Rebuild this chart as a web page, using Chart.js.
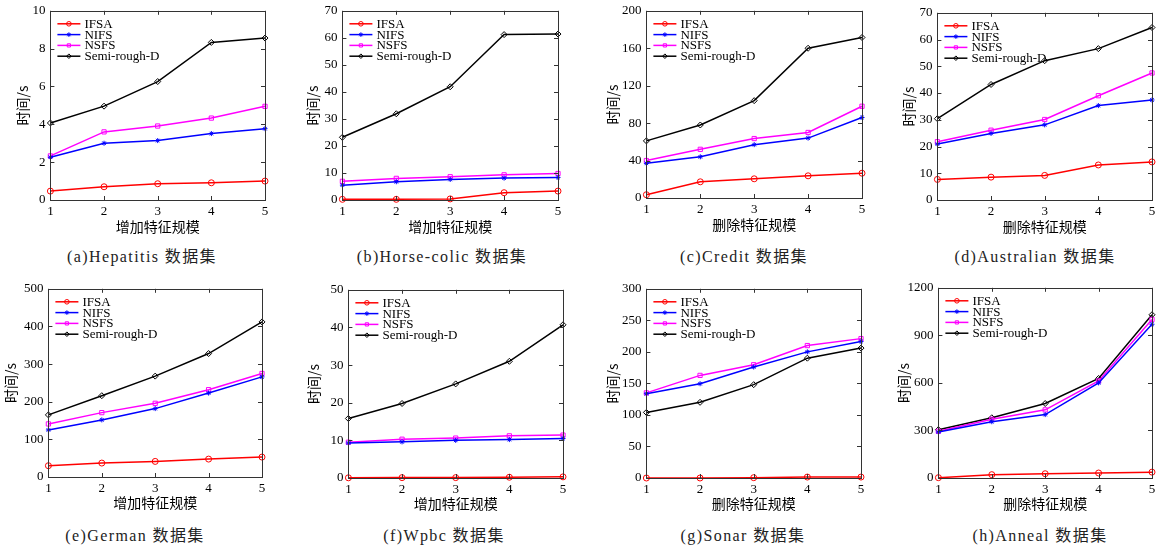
<!DOCTYPE html>
<html><head><meta charset="utf-8">
<script src="https://cdn.jsdelivr.net/npm/chart.js@4/dist/chart.umd.min.js"></script>
<style>
body{margin:0;width:1166px;height:547px;background:#fff;position:relative;overflow:hidden}
canvas{position:absolute}
.cap{position:absolute;font-family:"Liberation Serif","Noto Sans CJK SC",serif;font-size:16px;color:#222;white-space:nowrap;transform:translate(-50%,-50%);line-height:1;letter-spacing:1.4px}
</style></head><body>
<script>
// ---------- data ----------
const featureScale = [1, 2, 3, 4, 5];
const seriesNames = ['IFSA', 'NIFS', 'NSFS', 'Semi-rough-D'];

const hepatitisIFSA = [0.47, 0.70, 0.86, 0.91, 1.0];
const hepatitisNIFS = [2.26, 3.0, 3.14, 3.51, 3.77];
const hepatitisNSFS = [2.33, 3.6, 3.91, 4.33, 4.95];
const hepatitisSemi = [4.07, 4.96, 6.26, 8.33, 8.56];

const horseIFSA = [0.25, 0.25, 0.4, 2.7, 3.3];
const horseNIFS = [5.5, 6.75, 7.6, 8.1, 8.35];
const horseNSFS = [6.9, 8.0, 8.6, 9.3, 9.8];
const horseSemi = [23.2, 31.9, 41.9, 61.2, 61.4];

const creditIFSA = [3.5, 17.3, 20.5, 23.7, 26.5];
const creditNIFS = [37, 44, 57, 64, 86];
const creditNSFS = [40, 52, 63.5, 70, 98];
const creditSemi = [61, 78, 104, 160, 171.5];

const australianIFSA = [7.7, 8.55, 9.2, 13.1, 14.25];
const australianNIFS = [20.9, 24.9, 28.1, 35.3, 37.4];
const australianNSFS = [21.8, 26.1, 30.1, 39.0, 47.5];
const australianSemi = [30.4, 43.2, 52.1, 56.6, 64.5];

const germanIFSA = [30, 37, 41.4, 47.6, 52.9];
const germanNIFS = [125, 151.7, 181.7, 223, 266];
const germanNSFS = [141, 171, 195.8, 232, 275];
const germanSemi = [165, 216, 268, 328, 412];

const wpbcIFSA = [0.05, 0.1, 0.1, 0.2, 0.3];
const wpbcNIFS = [9.3, 9.6, 10.0, 10.2, 10.5];
const wpbcNSFS = [9.5, 10.3, 10.6, 11.2, 11.4];
const wpbcSemi = [15.8, 19.8, 25.0, 31.0, 40.7];

const sonarIFSA = [0, 0, 0.5, 1.5, 1.5];
const sonarNIFS = [133.6, 149.5, 176, 200, 216.6];
const sonarNSFS = [135, 162.7, 179.6, 210, 221];
const sonarSemi = [104, 120, 148, 190, 206];

const annealIFSA = [2, 21, 27, 31.5, 37];
const annealNIFS = [290, 355, 400, 600, 970];
const annealNSFS = [295, 370, 430, 612, 1000];
const annealSemi = [305, 380, 470, 628, 1030];

const yTicksHepatitis = {max: 10, step: 2};
const yTicksHorse = {max: 70, step: 10};
const yTicksCredit = {max: 200, step: 40};
const yTicksAustralian = {max: 70, step: 10};
const yTicksGerman = {max: 500, step: 100};
const yTicksWpbc = {max: 50, step: 10};
const yTicksSonar = {max: 300, step: 50};
const yTicksAnneal = {max: 1200, step: 300};

const xTitleAdd = '增加特征规模';
const xTitleDel = '删除特征规模';
const yTitle = '时间/s';

// ---------- panels (values + layout) ----------
const panels = [
  {cap:'(a)Hepatitis 数据集', series:[hepatitisIFSA,hepatitisNIFS,hepatitisNSFS,hepatitisSemi], y:yTicksHepatitis, xt:xTitleAdd, L:50,R:265,T:10,B:200, tx:22, capX:142, capY:257},
  {cap:'(b)Horse-colic 数据集', series:[horseIFSA,horseNIFS,horseNSFS,horseSemi], y:yTicksHorse, xt:xTitleAdd, L:342,R:558,T:10,B:200, tx:312, capX:442, capY:257},
  {cap:'(c)Credit 数据集', series:[creditIFSA,creditNIFS,creditNSFS,creditSemi], y:yTicksCredit, xt:xTitleDel, L:646,R:862,T:10,B:198, tx:612, capX:744, capY:257},
  {cap:'(d)Australian 数据集', series:[australianIFSA,australianNIFS,australianNSFS,australianSemi], y:yTicksAustralian, xt:xTitleDel, L:937,R:1152,T:12,B:200, tx:908, capX:1035, capY:257},
  {cap:'(e)German 数据集', series:[germanIFSA,germanNIFS,germanNSFS,germanSemi], y:yTicksGerman, xt:xTitleAdd, L:48,R:262,T:288,B:477, tx:10, capX:135, capY:536},
  {cap:'(f)Wpbc 数据集', series:[wpbcIFSA,wpbcNIFS,wpbcNSFS,wpbcSemi], y:yTicksWpbc, xt:xTitleAdd, L:348,R:563,T:289,B:478, tx:313, capX:444, capY:536},
  {cap:'(g)Sonar 数据集', series:[sonarIFSA,sonarNIFS,sonarNSFS,sonarSemi], y:yTicksSonar, xt:xTitleDel, L:646,R:861,T:288,B:478, tx:612, capX:743, capY:536},
  {cap:'(h)Anneal 数据集', series:[annealIFSA,annealNIFS,annealNSFS,annealSemi], y:yTicksAnneal, xt:xTitleDel, L:938,R:1152,T:287,B:478, tx:903, capX:1040, capY:536}
];

const colors = ['#ff0000', '#0000ff', '#ff00ff', '#000000'];
const pointStyles = ['circle', 'star', 'rect', 'rectRot'];
const pointRadii = [3, 2.5, 3, 3];

const serif = '"Liberation Serif", "Noto Sans CJK SC", serif';
const cjk = '"Noto Sans CJK SC", "Liberation Serif", sans-serif';

// frame + inward ticks + legend
const framePlugin = {
  id: 'frame',
  afterDraw(chart) {
    const {ctx, chartArea: a, scales: {x, y}} = chart;
    ctx.save();
    ctx.strokeStyle = '#333';
    ctx.lineWidth = 1;
    ctx.strokeRect(Math.round(a.left) + 0.5, Math.round(a.top) + 0.5, Math.round(a.right - a.left), Math.round(a.bottom - a.top));
    ctx.beginPath();
    const tl = 4;
    x.ticks.forEach((t, i) => {
      const px = Math.round(x.getPixelForTick(i)) + 0.5;
      ctx.moveTo(px, a.bottom); ctx.lineTo(px, a.bottom - tl);
      ctx.moveTo(px, a.top); ctx.lineTo(px, a.top + tl);
    });
    y.ticks.forEach(t => {
      const py = Math.round(y.getPixelForValue(t.value)) + 0.5;
      ctx.moveTo(a.left, py); ctx.lineTo(a.left + tl, py);
      ctx.moveTo(a.right, py); ctx.lineTo(a.right - tl, py);
    });
    ctx.stroke();
    // legend
    ctx.font = '13px ' + serif;
    ctx.textBaseline = 'middle';
    ctx.textAlign = 'left';
    chart.data.datasets.forEach((ds, i) => {
      const ry = a.top + 13 + i * 10.8;
      const x0 = a.left + 7, x1 = a.left + 30;
      ctx.strokeStyle = ds.borderColor;
      ctx.lineWidth = 1.5;
      ctx.beginPath(); ctx.moveTo(x0, ry); ctx.lineTo(x1, ry); ctx.stroke();
      ctx.lineWidth = 1;
      ctx.fillStyle = 'rgba(255,255,255,0)';
      Chart.helpers.drawPoint(ctx, {pointStyle: ds.pointStyle, radius: 2.3, borderWidth: 1, rotation: 0}, (x0 + x1) / 2, ry);
      ctx.fillStyle = '#000';
      ctx.fillText(ds.label, a.left + 34, ry + 0.5);
    });
    ctx.restore();
  }
};

panels.forEach(p => {
  const yTitleLH = 16.8;
  const cLeft = p.tx - yTitleLH / 2;
  const W = p.L - cLeft;
  const padTop = 12, padRight = 16, H = 38;
  const cTop = p.T - padTop;
  const cw = (p.R + padRight) - cLeft;
  const ch = (p.B + H) - cTop;
  const cv = document.createElement('canvas');
  cv.style.left = cLeft + 'px';
  cv.style.top = cTop + 'px';
  cv.style.width = cw + 'px';
  cv.style.height = ch + 'px';
  cv.width = cw; cv.height = ch;
  document.body.appendChild(cv);

  const cap = document.createElement('div');
  cap.className = 'cap';
  cap.textContent = p.cap;
  cap.style.left = p.capX + 'px';
  cap.style.top = p.capY + 'px';
  document.body.appendChild(cap);

  const datasets = p.series.map((vals, i) => ({
    label: seriesNames[i],
    data: vals,
    borderColor: colors[i],
    backgroundColor: colors[i],
    borderWidth: 1.5,
    pointStyle: pointStyles[i],
    pointRadius: pointRadii[i],
    pointBorderWidth: 1,
    pointBorderColor: colors[i],
    pointBackgroundColor: 'rgba(255,255,255,0)',
    tension: 0,
    clip: false
  }));
  const xTitleCenterOffset = (p.T > 100) ? 26 : 27;
  new Chart(cv, {
    type: 'line',
    data: {labels: featureScale, datasets},
    plugins: [framePlugin],
    options: {
      responsive: false,
      animation: false,
      events: [],
      layout: {padding: {top: padTop, right: padRight, left: 0, bottom: 0}},
      plugins: {legend: {display: false}, tooltip: {enabled: false}},
      scales: {
        x: {
          type: 'category',
          offset: false,
          grid: {display: false, drawTicks: false},
          border: {display: false},
          ticks: {color: '#000', font: {family: serif, size: 13}, padding: 4, maxRotation: 0, autoSkip: false},
          title: {display: true, text: p.xt, color: '#000', font: {family: cjk, size: 14}, padding: {top: 0, bottom: H - 8.4 - xTitleCenterOffset}},
          afterFit: s => { s.height = H; }
        },
        y: {
          min: 0, max: p.y.max,
          grid: {display: false, drawTicks: false},
          border: {display: false},
          ticks: {stepSize: p.y.step, color: '#000', font: {family: serif, size: 13}, padding: 5, callback: v => String(v)},
          title: {display: true, text: yTitle, color: '#000', font: {family: cjk, size: 14}, padding: {top: 0, bottom: 0}},
          afterFit: s => { s.width = W; }
        }
      }
    }
  });
});
</script>
</body></html>
